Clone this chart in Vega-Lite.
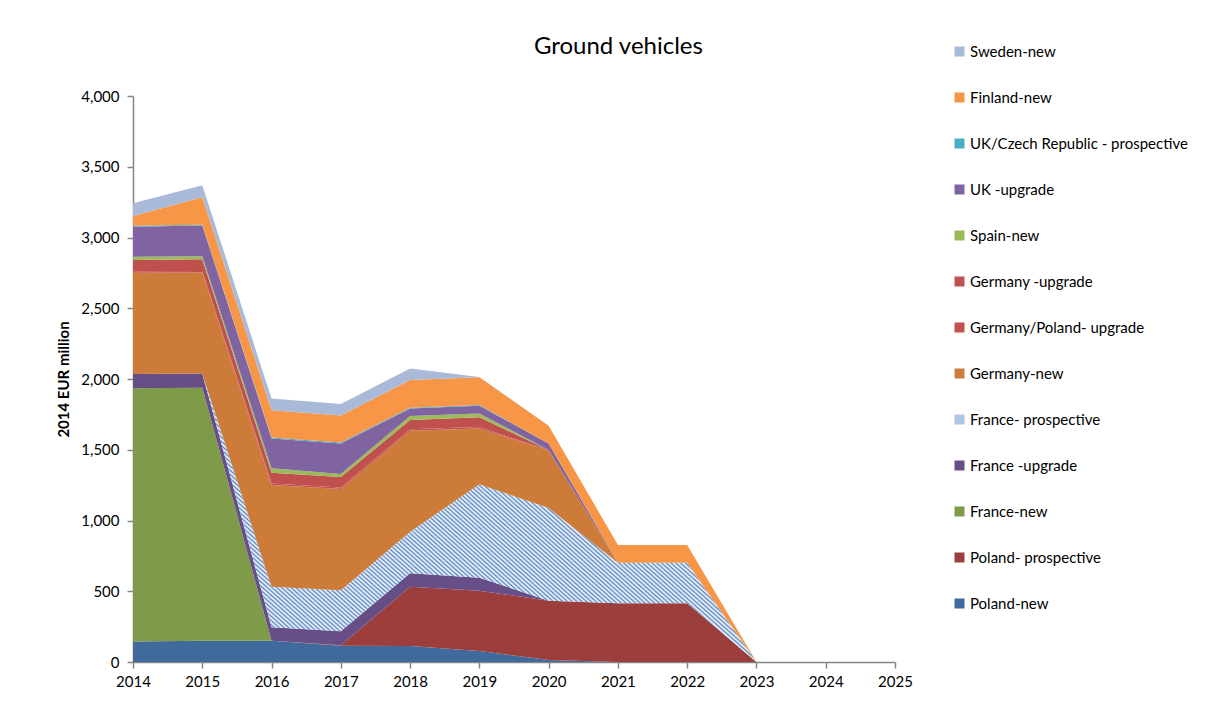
{
  "$schema": "https://vega.github.io/schema/vega-lite/v6.json",
  "width": 762,
  "height": 566,
  "autosize": {"type": "pad"},
  "padding": {"left": 56, "top": 35, "right": 5, "bottom": 5},
  "background": "white",
  "config": {"view": {"stroke": null}, "font": "Lato"},
  "title": {"text": "Ground vehicles", "fontSize": 24, "font": "Lato", "fontWeight": "normal", "color": "#000000", "anchor": "middle", "frame": "bounds", "offset": -15, "dx": -4},
  "datasets": {
    "stackOrder": [
      {"series": "Poland-new", "rank": 1},
      {"series": "Poland- prospective", "rank": 2},
      {"series": "France-new", "rank": 3},
      {"series": "France -upgrade", "rank": 4},
      {"series": "France- prospective", "rank": 5},
      {"series": "Germany-new", "rank": 6},
      {"series": "Germany/Poland- upgrade", "rank": 7},
      {"series": "Germany -upgrade", "rank": 8},
      {"series": "Spain-new", "rank": 9},
      {"series": "UK -upgrade", "rank": 10},
      {"series": "UK/Czech Republic - prospective", "rank": 11},
      {"series": "Finland-new", "rank": 12},
      {"series": "Sweden-new", "rank": 13}
    ]
  },
  "data": {"values": [
    {"year": 2014, "series": "Poland-new", "value": 145},
    {"year": 2015, "series": "Poland-new", "value": 150},
    {"year": 2016, "series": "Poland-new", "value": 150},
    {"year": 2017, "series": "Poland-new", "value": 115},
    {"year": 2018, "series": "Poland-new", "value": 113},
    {"year": 2019, "series": "Poland-new", "value": 78},
    {"year": 2020, "series": "Poland-new", "value": 14},
    {"year": 2021, "series": "Poland-new", "value": 0},
    {"year": 2016, "series": "Poland- prospective", "value": 0},
    {"year": 2017, "series": "Poland- prospective", "value": 3},
    {"year": 2018, "series": "Poland- prospective", "value": 419},
    {"year": 2019, "series": "Poland- prospective", "value": 426},
    {"year": 2020, "series": "Poland- prospective", "value": 419},
    {"year": 2021, "series": "Poland- prospective", "value": 415},
    {"year": 2022, "series": "Poland- prospective", "value": 415},
    {"year": 2023, "series": "Poland- prospective", "value": 0},
    {"year": 2014, "series": "France-new", "value": 1790},
    {"year": 2015, "series": "France-new", "value": 1789},
    {"year": 2016, "series": "France-new", "value": 0},
    {"year": 2014, "series": "France -upgrade", "value": 100},
    {"year": 2015, "series": "France -upgrade", "value": 100},
    {"year": 2016, "series": "France -upgrade", "value": 95},
    {"year": 2017, "series": "France -upgrade", "value": 99},
    {"year": 2018, "series": "France -upgrade", "value": 95},
    {"year": 2019, "series": "France -upgrade", "value": 92},
    {"year": 2020, "series": "France -upgrade", "value": 0},
    {"year": 2015, "series": "France- prospective", "value": 0},
    {"year": 2016, "series": "France- prospective", "value": 287},
    {"year": 2017, "series": "France- prospective", "value": 290},
    {"year": 2018, "series": "France- prospective", "value": 294},
    {"year": 2019, "series": "France- prospective", "value": 660},
    {"year": 2020, "series": "France- prospective", "value": 655},
    {"year": 2021, "series": "France- prospective", "value": 287},
    {"year": 2022, "series": "France- prospective", "value": 287},
    {"year": 2023, "series": "France- prospective", "value": 0},
    {"year": 2014, "series": "Germany-new", "value": 716},
    {"year": 2015, "series": "Germany-new", "value": 714},
    {"year": 2016, "series": "Germany-new", "value": 719},
    {"year": 2017, "series": "Germany-new", "value": 716},
    {"year": 2018, "series": "Germany-new", "value": 714},
    {"year": 2019, "series": "Germany-new", "value": 395},
    {"year": 2020, "series": "Germany-new", "value": 408},
    {"year": 2021, "series": "Germany-new", "value": 0},
    {"year": 2014, "series": "Germany/Poland- upgrade", "value": 10},
    {"year": 2015, "series": "Germany/Poland- upgrade", "value": 10},
    {"year": 2016, "series": "Germany/Poland- upgrade", "value": 10},
    {"year": 2017, "series": "Germany/Poland- upgrade", "value": 10},
    {"year": 2018, "series": "Germany/Poland- upgrade", "value": 10},
    {"year": 2019, "series": "Germany/Poland- upgrade", "value": 10},
    {"year": 2020, "series": "Germany/Poland- upgrade", "value": 0},
    {"year": 2014, "series": "Germany -upgrade", "value": 80},
    {"year": 2015, "series": "Germany -upgrade", "value": 84},
    {"year": 2016, "series": "Germany -upgrade", "value": 77},
    {"year": 2017, "series": "Germany -upgrade", "value": 75},
    {"year": 2018, "series": "Germany -upgrade", "value": 65},
    {"year": 2019, "series": "Germany -upgrade", "value": 68},
    {"year": 2020, "series": "Germany -upgrade", "value": 2},
    {"year": 2021, "series": "Germany -upgrade", "value": 0},
    {"year": 2014, "series": "Spain-new", "value": 23},
    {"year": 2015, "series": "Spain-new", "value": 21},
    {"year": 2016, "series": "Spain-new", "value": 31},
    {"year": 2017, "series": "Spain-new", "value": 21},
    {"year": 2018, "series": "Spain-new", "value": 29},
    {"year": 2019, "series": "Spain-new", "value": 28},
    {"year": 2020, "series": "Spain-new", "value": 0},
    {"year": 2014, "series": "UK -upgrade", "value": 212},
    {"year": 2015, "series": "UK -upgrade", "value": 217},
    {"year": 2016, "series": "UK -upgrade", "value": 210},
    {"year": 2017, "series": "UK -upgrade", "value": 215},
    {"year": 2018, "series": "UK -upgrade", "value": 52},
    {"year": 2019, "series": "UK -upgrade", "value": 54},
    {"year": 2020, "series": "UK -upgrade", "value": 47},
    {"year": 2021, "series": "UK -upgrade", "value": 0},
    {"year": 2014, "series": "UK/Czech Republic - prospective", "value": 7},
    {"year": 2015, "series": "UK/Czech Republic - prospective", "value": 5},
    {"year": 2016, "series": "UK/Czech Republic - prospective", "value": 8},
    {"year": 2017, "series": "UK/Czech Republic - prospective", "value": 7},
    {"year": 2018, "series": "UK/Czech Republic - prospective", "value": 6},
    {"year": 2019, "series": "UK/Czech Republic - prospective", "value": 5},
    {"year": 2020, "series": "UK/Czech Republic - prospective", "value": 0},
    {"year": 2014, "series": "Finland-new", "value": 69},
    {"year": 2015, "series": "Finland-new", "value": 195},
    {"year": 2016, "series": "Finland-new", "value": 193},
    {"year": 2017, "series": "Finland-new", "value": 191},
    {"year": 2018, "series": "Finland-new", "value": 196},
    {"year": 2019, "series": "Finland-new", "value": 196},
    {"year": 2020, "series": "Finland-new", "value": 124},
    {"year": 2021, "series": "Finland-new", "value": 125},
    {"year": 2022, "series": "Finland-new", "value": 125},
    {"year": 2023, "series": "Finland-new", "value": 0},
    {"year": 2014, "series": "Sweden-new", "value": 90},
    {"year": 2015, "series": "Sweden-new", "value": 85},
    {"year": 2016, "series": "Sweden-new", "value": 83},
    {"year": 2017, "series": "Sweden-new", "value": 82},
    {"year": 2018, "series": "Sweden-new", "value": 82},
    {"year": 2019, "series": "Sweden-new", "value": 3},
    {"year": 2020, "series": "Sweden-new", "value": 0}
  ]},
  "transform": [
    {"lookup": "series", "from": {"data": {"name": "stackOrder"}, "key": "series", "fields": ["rank"]}}
  ],
  "mark": {"type": "area", "opacity": 1},
  "encoding": {
    "x": {
      "field": "year", "type": "quantitative",
      "scale": {"domain": [2014, 2025], "nice": false, "zero": false},
      "axis": {"values": [2014, 2015, 2016, 2017, 2018, 2019, 2020, 2021, 2022, 2023, 2024, 2025], "format": "d", "grid": false, "title": null, "labelFontSize": 15, "labelFont": "Lato", "labelColor": "#000000", "labelFlush": false, "labelPadding": 6, "tickSize": 6, "tickColor": "#868686", "domainColor": "#868686", "domainWidth": 1.5, "tickWidth": 1.5}
    },
    "y": {
      "field": "value", "type": "quantitative", "stack": "zero",
      "scale": {"domain": [0, 4000], "nice": false},
      "axis": {"values": [0, 500, 1000, 1500, 2000, 2500, 3000, 3500, 4000], "format": ",.0f", "grid": false, "title": "2014 EUR million", "titleFontSize": 15, "titleFont": "Lato", "titleFontWeight": "bold", "titleColor": "#000000", "titlePadding": 9, "labelFontSize": 15, "labelFont": "Lato", "labelColor": "#000000", "labelPadding": 8, "tickSize": 6, "tickColor": "#868686", "domainColor": "#868686", "domainWidth": 1.5, "tickWidth": 1.5}
    },
    "order": {"field": "rank", "type": "quantitative", "sort": "ascending"},
    "color": {
      "field": "series", "type": "nominal",
      "sort": ["Sweden-new", "Finland-new", "UK/Czech Republic - prospective", "UK -upgrade", "Spain-new", "Germany -upgrade", "Germany/Poland- upgrade", "Germany-new", "France- prospective", "France -upgrade", "France-new", "Poland- prospective", "Poland-new"],
      "scale": {
        "domain": ["Sweden-new", "Finland-new", "UK/Czech Republic - prospective", "UK -upgrade", "Spain-new", "Germany -upgrade", "Germany/Poland- upgrade", "Germany-new", "France- prospective", "France -upgrade", "France-new", "Poland- prospective", "Poland-new"],
        "range": ["#A9BAD9", "#F79646", "#4BACC6", "#8064A2", "#9BBB59", "#C0504D", "#C4514E", "#CC7B38", "#AFC5E3", "#674E86", "#7F9A48", "#9B3E3C", "#3F6A9B"]
      },
      "legend": {"orient": "none", "legendX": 819, "legendY": -52, "title": null, "symbolType": "square", "symbolSize": 100, "symbolStrokeWidth": 0, "labelFontSize": 15, "labelFont": "Lato", "labelColor": "#000000", "rowPadding": 30, "labelOffset": 3, "labelLimit": 300},
      "condition": {
        "test": "datum.series === 'France- prospective'",
        "value": {
          "gradient": "linear", "x1": 0, "y1": 1, "x2": 1.1964, "y2": 0.3771,
          "stops": [
            {"offset":0,"color":"#5e8bc8"},{"offset":0.0025,"color":"#fff"},{"offset":0.005,"color":"#5e8bc8"},{"offset":0.0075,"color":"#fff"},
            {"offset":0.01,"color":"#5e8bc8"},{"offset":0.0125,"color":"#fff"},{"offset":0.015,"color":"#5e8bc8"},{"offset":0.0175,"color":"#fff"},
            {"offset":0.02,"color":"#5e8bc8"},{"offset":0.0225,"color":"#fff"},{"offset":0.025,"color":"#5e8bc8"},{"offset":0.0275,"color":"#fff"},
            {"offset":0.03,"color":"#5e8bc8"},{"offset":0.0325,"color":"#fff"},{"offset":0.035,"color":"#5e8bc8"},{"offset":0.0375,"color":"#fff"},
            {"offset":0.04,"color":"#5e8bc8"},{"offset":0.0425,"color":"#fff"},{"offset":0.045,"color":"#5e8bc8"},{"offset":0.0475,"color":"#fff"},
            {"offset":0.05,"color":"#5e8bc8"},{"offset":0.0525,"color":"#fff"},{"offset":0.055,"color":"#5e8bc8"},{"offset":0.0575,"color":"#fff"},
            {"offset":0.06,"color":"#5e8bc8"},{"offset":0.0625,"color":"#fff"},{"offset":0.065,"color":"#5e8bc8"},{"offset":0.0675,"color":"#fff"},
            {"offset":0.07,"color":"#5e8bc8"},{"offset":0.0725,"color":"#fff"},{"offset":0.075,"color":"#5e8bc8"},{"offset":0.0775,"color":"#fff"},
            {"offset":0.08,"color":"#5e8bc8"},{"offset":0.0825,"color":"#fff"},{"offset":0.085,"color":"#5e8bc8"},{"offset":0.0875,"color":"#fff"},
            {"offset":0.09,"color":"#5e8bc8"},{"offset":0.0925,"color":"#fff"},{"offset":0.095,"color":"#5e8bc8"},{"offset":0.0975,"color":"#fff"},
            {"offset":0.1,"color":"#5e8bc8"},{"offset":0.1025,"color":"#fff"},{"offset":0.105,"color":"#5e8bc8"},{"offset":0.1075,"color":"#fff"},
            {"offset":0.11,"color":"#5e8bc8"},{"offset":0.1125,"color":"#fff"},{"offset":0.115,"color":"#5e8bc8"},{"offset":0.1175,"color":"#fff"},
            {"offset":0.12,"color":"#5e8bc8"},{"offset":0.1225,"color":"#fff"},{"offset":0.125,"color":"#5e8bc8"},{"offset":0.1275,"color":"#fff"},
            {"offset":0.13,"color":"#5e8bc8"},{"offset":0.1325,"color":"#fff"},{"offset":0.135,"color":"#5e8bc8"},{"offset":0.1375,"color":"#fff"},
            {"offset":0.14,"color":"#5e8bc8"},{"offset":0.1425,"color":"#fff"},{"offset":0.145,"color":"#5e8bc8"},{"offset":0.1475,"color":"#fff"},
            {"offset":0.15,"color":"#5e8bc8"},{"offset":0.1525,"color":"#fff"},{"offset":0.155,"color":"#5e8bc8"},{"offset":0.1575,"color":"#fff"},
            {"offset":0.16,"color":"#5e8bc8"},{"offset":0.1625,"color":"#fff"},{"offset":0.165,"color":"#5e8bc8"},{"offset":0.1675,"color":"#fff"},
            {"offset":0.17,"color":"#5e8bc8"},{"offset":0.1725,"color":"#fff"},{"offset":0.175,"color":"#5e8bc8"},{"offset":0.1775,"color":"#fff"},
            {"offset":0.18,"color":"#5e8bc8"},{"offset":0.1825,"color":"#fff"},{"offset":0.185,"color":"#5e8bc8"},{"offset":0.1875,"color":"#fff"},
            {"offset":0.19,"color":"#5e8bc8"},{"offset":0.1925,"color":"#fff"},{"offset":0.195,"color":"#5e8bc8"},{"offset":0.1975,"color":"#fff"},
            {"offset":0.2,"color":"#5e8bc8"},{"offset":0.2025,"color":"#fff"},{"offset":0.205,"color":"#5e8bc8"},{"offset":0.2075,"color":"#fff"},
            {"offset":0.21,"color":"#5e8bc8"},{"offset":0.2125,"color":"#fff"},{"offset":0.215,"color":"#5e8bc8"},{"offset":0.2175,"color":"#fff"},
            {"offset":0.22,"color":"#5e8bc8"},{"offset":0.2225,"color":"#fff"},{"offset":0.225,"color":"#5e8bc8"},{"offset":0.2275,"color":"#fff"},
            {"offset":0.23,"color":"#5e8bc8"},{"offset":0.2325,"color":"#fff"},{"offset":0.235,"color":"#5e8bc8"},{"offset":0.2375,"color":"#fff"},
            {"offset":0.24,"color":"#5e8bc8"},{"offset":0.2425,"color":"#fff"},{"offset":0.245,"color":"#5e8bc8"},{"offset":0.2475,"color":"#fff"},
            {"offset":0.25,"color":"#5e8bc8"},{"offset":0.2525,"color":"#fff"},{"offset":0.255,"color":"#5e8bc8"},{"offset":0.2575,"color":"#fff"},
            {"offset":0.26,"color":"#5e8bc8"},{"offset":0.2625,"color":"#fff"},{"offset":0.265,"color":"#5e8bc8"},{"offset":0.2675,"color":"#fff"},
            {"offset":0.27,"color":"#5e8bc8"},{"offset":0.2725,"color":"#fff"},{"offset":0.275,"color":"#5e8bc8"},{"offset":0.2775,"color":"#fff"},
            {"offset":0.28,"color":"#5e8bc8"},{"offset":0.2825,"color":"#fff"},{"offset":0.285,"color":"#5e8bc8"},{"offset":0.2875,"color":"#fff"},
            {"offset":0.29,"color":"#5e8bc8"},{"offset":0.2925,"color":"#fff"},{"offset":0.295,"color":"#5e8bc8"},{"offset":0.2975,"color":"#fff"},
            {"offset":0.3,"color":"#5e8bc8"},{"offset":0.3025,"color":"#fff"},{"offset":0.305,"color":"#5e8bc8"},{"offset":0.3075,"color":"#fff"},
            {"offset":0.31,"color":"#5e8bc8"},{"offset":0.3125,"color":"#fff"},{"offset":0.315,"color":"#5e8bc8"},{"offset":0.3175,"color":"#fff"},
            {"offset":0.32,"color":"#5e8bc8"},{"offset":0.3225,"color":"#fff"},{"offset":0.325,"color":"#5e8bc8"},{"offset":0.3275,"color":"#fff"},
            {"offset":0.33,"color":"#5e8bc8"},{"offset":0.3325,"color":"#fff"},{"offset":0.335,"color":"#5e8bc8"},{"offset":0.3375,"color":"#fff"},
            {"offset":0.34,"color":"#5e8bc8"},{"offset":0.3425,"color":"#fff"},{"offset":0.345,"color":"#5e8bc8"},{"offset":0.3475,"color":"#fff"},
            {"offset":0.35,"color":"#5e8bc8"},{"offset":0.3525,"color":"#fff"},{"offset":0.355,"color":"#5e8bc8"},{"offset":0.3575,"color":"#fff"},
            {"offset":0.36,"color":"#5e8bc8"},{"offset":0.3625,"color":"#fff"},{"offset":0.365,"color":"#5e8bc8"},{"offset":0.3675,"color":"#fff"},
            {"offset":0.37,"color":"#5e8bc8"},{"offset":0.3725,"color":"#fff"},{"offset":0.375,"color":"#5e8bc8"},{"offset":0.3775,"color":"#fff"},
            {"offset":0.38,"color":"#5e8bc8"},{"offset":0.3825,"color":"#fff"},{"offset":0.385,"color":"#5e8bc8"},{"offset":0.3875,"color":"#fff"},
            {"offset":0.39,"color":"#5e8bc8"},{"offset":0.3925,"color":"#fff"},{"offset":0.395,"color":"#5e8bc8"},{"offset":0.3975,"color":"#fff"},
            {"offset":0.4,"color":"#5e8bc8"},{"offset":0.4025,"color":"#fff"},{"offset":0.405,"color":"#5e8bc8"},{"offset":0.4075,"color":"#fff"},
            {"offset":0.41,"color":"#5e8bc8"},{"offset":0.4125,"color":"#fff"},{"offset":0.415,"color":"#5e8bc8"},{"offset":0.4175,"color":"#fff"},
            {"offset":0.42,"color":"#5e8bc8"},{"offset":0.4225,"color":"#fff"},{"offset":0.425,"color":"#5e8bc8"},{"offset":0.4275,"color":"#fff"},
            {"offset":0.43,"color":"#5e8bc8"},{"offset":0.4325,"color":"#fff"},{"offset":0.435,"color":"#5e8bc8"},{"offset":0.4375,"color":"#fff"},
            {"offset":0.44,"color":"#5e8bc8"},{"offset":0.4425,"color":"#fff"},{"offset":0.445,"color":"#5e8bc8"},{"offset":0.4475,"color":"#fff"},
            {"offset":0.45,"color":"#5e8bc8"},{"offset":0.4525,"color":"#fff"},{"offset":0.455,"color":"#5e8bc8"},{"offset":0.4575,"color":"#fff"},
            {"offset":0.46,"color":"#5e8bc8"},{"offset":0.4625,"color":"#fff"},{"offset":0.465,"color":"#5e8bc8"},{"offset":0.4675,"color":"#fff"},
            {"offset":0.47,"color":"#5e8bc8"},{"offset":0.4725,"color":"#fff"},{"offset":0.475,"color":"#5e8bc8"},{"offset":0.4775,"color":"#fff"},
            {"offset":0.48,"color":"#5e8bc8"},{"offset":0.4825,"color":"#fff"},{"offset":0.485,"color":"#5e8bc8"},{"offset":0.4875,"color":"#fff"},
            {"offset":0.49,"color":"#5e8bc8"},{"offset":0.4925,"color":"#fff"},{"offset":0.495,"color":"#5e8bc8"},{"offset":0.4975,"color":"#fff"},
            {"offset":0.5,"color":"#5e8bc8"},{"offset":0.5025,"color":"#fff"},{"offset":0.505,"color":"#5e8bc8"},{"offset":0.5075,"color":"#fff"},
            {"offset":0.51,"color":"#5e8bc8"},{"offset":0.5125,"color":"#fff"},{"offset":0.515,"color":"#5e8bc8"},{"offset":0.5175,"color":"#fff"},
            {"offset":0.52,"color":"#5e8bc8"},{"offset":0.5225,"color":"#fff"},{"offset":0.525,"color":"#5e8bc8"},{"offset":0.5275,"color":"#fff"},
            {"offset":0.53,"color":"#5e8bc8"},{"offset":0.5325,"color":"#fff"},{"offset":0.535,"color":"#5e8bc8"},{"offset":0.5375,"color":"#fff"},
            {"offset":0.54,"color":"#5e8bc8"},{"offset":0.5425,"color":"#fff"},{"offset":0.545,"color":"#5e8bc8"},{"offset":0.5475,"color":"#fff"},
            {"offset":0.55,"color":"#5e8bc8"},{"offset":0.5525,"color":"#fff"},{"offset":0.555,"color":"#5e8bc8"},{"offset":0.5575,"color":"#fff"},
            {"offset":0.56,"color":"#5e8bc8"},{"offset":0.5625,"color":"#fff"},{"offset":0.565,"color":"#5e8bc8"},{"offset":0.5675,"color":"#fff"},
            {"offset":0.57,"color":"#5e8bc8"},{"offset":0.5725,"color":"#fff"},{"offset":0.575,"color":"#5e8bc8"},{"offset":0.5775,"color":"#fff"},
            {"offset":0.58,"color":"#5e8bc8"},{"offset":0.5825,"color":"#fff"},{"offset":0.585,"color":"#5e8bc8"},{"offset":0.5875,"color":"#fff"},
            {"offset":0.59,"color":"#5e8bc8"},{"offset":0.5925,"color":"#fff"},{"offset":0.595,"color":"#5e8bc8"},{"offset":0.5975,"color":"#fff"},
            {"offset":0.6,"color":"#5e8bc8"},{"offset":0.6025,"color":"#fff"},{"offset":0.605,"color":"#5e8bc8"},{"offset":0.6075,"color":"#fff"},
            {"offset":0.61,"color":"#5e8bc8"},{"offset":0.6125,"color":"#fff"},{"offset":0.615,"color":"#5e8bc8"},{"offset":0.6175,"color":"#fff"},
            {"offset":0.62,"color":"#5e8bc8"},{"offset":0.6225,"color":"#fff"},{"offset":0.625,"color":"#5e8bc8"},{"offset":0.6275,"color":"#fff"},
            {"offset":0.63,"color":"#5e8bc8"},{"offset":0.6325,"color":"#fff"},{"offset":0.635,"color":"#5e8bc8"},{"offset":0.6375,"color":"#fff"},
            {"offset":0.64,"color":"#5e8bc8"},{"offset":0.6425,"color":"#fff"},{"offset":0.645,"color":"#5e8bc8"},{"offset":0.6475,"color":"#fff"},
            {"offset":0.65,"color":"#5e8bc8"},{"offset":0.6525,"color":"#fff"},{"offset":0.655,"color":"#5e8bc8"},{"offset":0.6575,"color":"#fff"},
            {"offset":0.66,"color":"#5e8bc8"},{"offset":0.6625,"color":"#fff"},{"offset":0.665,"color":"#5e8bc8"},{"offset":0.6675,"color":"#fff"},
            {"offset":0.67,"color":"#5e8bc8"},{"offset":0.6725,"color":"#fff"},{"offset":0.675,"color":"#5e8bc8"},{"offset":0.6775,"color":"#fff"},
            {"offset":0.68,"color":"#5e8bc8"},{"offset":0.6825,"color":"#fff"},{"offset":0.685,"color":"#5e8bc8"},{"offset":0.6875,"color":"#fff"},
            {"offset":0.69,"color":"#5e8bc8"},{"offset":0.6925,"color":"#fff"},{"offset":0.695,"color":"#5e8bc8"},{"offset":0.6975,"color":"#fff"},
            {"offset":0.7,"color":"#5e8bc8"},{"offset":0.7025,"color":"#fff"},{"offset":0.705,"color":"#5e8bc8"},{"offset":0.7075,"color":"#fff"},
            {"offset":0.71,"color":"#5e8bc8"},{"offset":0.7125,"color":"#fff"},{"offset":0.715,"color":"#5e8bc8"},{"offset":0.7175,"color":"#fff"},
            {"offset":0.72,"color":"#5e8bc8"},{"offset":0.7225,"color":"#fff"},{"offset":0.725,"color":"#5e8bc8"},{"offset":0.7275,"color":"#fff"},
            {"offset":0.73,"color":"#5e8bc8"},{"offset":0.7325,"color":"#fff"},{"offset":0.735,"color":"#5e8bc8"},{"offset":0.7375,"color":"#fff"},
            {"offset":0.74,"color":"#5e8bc8"},{"offset":0.7425,"color":"#fff"},{"offset":0.745,"color":"#5e8bc8"},{"offset":0.7475,"color":"#fff"},
            {"offset":0.75,"color":"#5e8bc8"},{"offset":0.7525,"color":"#fff"},{"offset":0.755,"color":"#5e8bc8"},{"offset":0.7575,"color":"#fff"},
            {"offset":0.76,"color":"#5e8bc8"},{"offset":0.7625,"color":"#fff"},{"offset":0.765,"color":"#5e8bc8"},{"offset":0.7675,"color":"#fff"},
            {"offset":0.77,"color":"#5e8bc8"},{"offset":0.7725,"color":"#fff"},{"offset":0.775,"color":"#5e8bc8"},{"offset":0.7775,"color":"#fff"},
            {"offset":0.78,"color":"#5e8bc8"},{"offset":0.7825,"color":"#fff"},{"offset":0.785,"color":"#5e8bc8"},{"offset":0.7875,"color":"#fff"},
            {"offset":0.79,"color":"#5e8bc8"},{"offset":0.7925,"color":"#fff"},{"offset":0.795,"color":"#5e8bc8"},{"offset":0.7975,"color":"#fff"},
            {"offset":0.8,"color":"#5e8bc8"},{"offset":0.8025,"color":"#fff"},{"offset":0.805,"color":"#5e8bc8"},{"offset":0.8075,"color":"#fff"},
            {"offset":0.81,"color":"#5e8bc8"},{"offset":0.8125,"color":"#fff"},{"offset":0.815,"color":"#5e8bc8"},{"offset":0.8175,"color":"#fff"},
            {"offset":0.82,"color":"#5e8bc8"},{"offset":0.8225,"color":"#fff"},{"offset":0.825,"color":"#5e8bc8"},{"offset":0.8275,"color":"#fff"},
            {"offset":0.83,"color":"#5e8bc8"},{"offset":0.8325,"color":"#fff"},{"offset":0.835,"color":"#5e8bc8"},{"offset":0.8375,"color":"#fff"},
            {"offset":0.84,"color":"#5e8bc8"},{"offset":0.8425,"color":"#fff"},{"offset":0.845,"color":"#5e8bc8"},{"offset":0.8475,"color":"#fff"},
            {"offset":0.85,"color":"#5e8bc8"},{"offset":0.8525,"color":"#fff"},{"offset":0.855,"color":"#5e8bc8"},{"offset":0.8575,"color":"#fff"},
            {"offset":0.86,"color":"#5e8bc8"},{"offset":0.8625,"color":"#fff"},{"offset":0.865,"color":"#5e8bc8"},{"offset":0.8675,"color":"#fff"},
            {"offset":0.87,"color":"#5e8bc8"},{"offset":0.8725,"color":"#fff"},{"offset":0.875,"color":"#5e8bc8"},{"offset":0.8775,"color":"#fff"},
            {"offset":0.88,"color":"#5e8bc8"},{"offset":0.8825,"color":"#fff"},{"offset":0.885,"color":"#5e8bc8"},{"offset":0.8875,"color":"#fff"},
            {"offset":0.89,"color":"#5e8bc8"},{"offset":0.8925,"color":"#fff"},{"offset":0.895,"color":"#5e8bc8"},{"offset":0.8975,"color":"#fff"},
            {"offset":0.9,"color":"#5e8bc8"},{"offset":0.9025,"color":"#fff"},{"offset":0.905,"color":"#5e8bc8"},{"offset":0.9075,"color":"#fff"},
            {"offset":0.91,"color":"#5e8bc8"},{"offset":0.9125,"color":"#fff"},{"offset":0.915,"color":"#5e8bc8"},{"offset":0.9175,"color":"#fff"},
            {"offset":0.92,"color":"#5e8bc8"},{"offset":0.9225,"color":"#fff"},{"offset":0.925,"color":"#5e8bc8"},{"offset":0.9275,"color":"#fff"},
            {"offset":0.93,"color":"#5e8bc8"},{"offset":0.9325,"color":"#fff"},{"offset":0.935,"color":"#5e8bc8"},{"offset":0.9375,"color":"#fff"},
            {"offset":0.94,"color":"#5e8bc8"},{"offset":0.9425,"color":"#fff"},{"offset":0.945,"color":"#5e8bc8"},{"offset":0.9475,"color":"#fff"},
            {"offset":0.95,"color":"#5e8bc8"},{"offset":0.9525,"color":"#fff"},{"offset":0.955,"color":"#5e8bc8"},{"offset":0.9575,"color":"#fff"},
            {"offset":0.96,"color":"#5e8bc8"},{"offset":0.9625,"color":"#fff"},{"offset":0.965,"color":"#5e8bc8"},{"offset":0.9675,"color":"#fff"},
            {"offset":0.97,"color":"#5e8bc8"},{"offset":0.9725,"color":"#fff"},{"offset":0.975,"color":"#5e8bc8"},{"offset":0.9775,"color":"#fff"},
            {"offset":0.98,"color":"#5e8bc8"},{"offset":0.9825,"color":"#fff"},{"offset":0.985,"color":"#5e8bc8"},{"offset":0.9875,"color":"#fff"},
            {"offset":0.99,"color":"#5e8bc8"},{"offset":0.9925,"color":"#fff"},{"offset":0.995,"color":"#5e8bc8"},{"offset":0.9975,"color":"#fff"},
            {"offset":1,"color":"#5e8bc8"}
          ]
        }
      }
    }
  }
}
